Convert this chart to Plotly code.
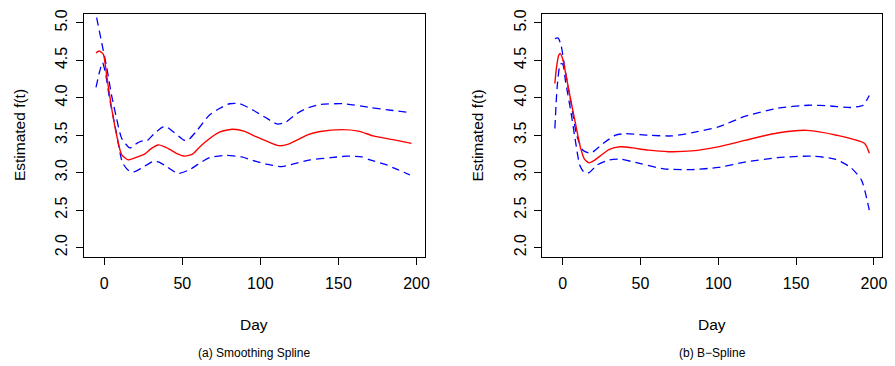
import plotly.graph_objects as go

# ---------------- data ----------------
# (a) Smoothing spline
day_a_fit = [-5.3, -3.2, -0.6, 1.5, 4.7, 7.9, 11.1, 15.3, 20, 26, 30, 34.5, 38, 41.9, 47, 51.5,
             56.8, 60, 65.3, 73.8, 82.3, 90, 97.2, 104, 111.7, 118, 125, 131, 138.3, 152.1,
             162.8, 172.3, 185, 196.8]
fit_a = [4.60, 4.625, 4.58, 4.30, 3.86, 3.50, 3.24, 3.17, 3.20, 3.25, 3.32, 3.37, 3.35, 3.31, 3.25,
         3.22, 3.25, 3.32, 3.42, 3.54, 3.58, 3.55, 3.48, 3.42, 3.36, 3.38, 3.45, 3.51, 3.55, 3.575,
         3.555, 3.49, 3.44, 3.39]

day_a_upper = [-4.9, -1.7, 1.5, 4.7, 7.9, 11.1, 16.4, 20, 23.8, 27, 32, 37.6, 40, 44, 51.5, 54,
               58.9, 67.4, 74, 80.2, 87, 95.7, 103, 110.6, 116, 123.4, 131, 138.3, 153.2, 170.2,
               185, 196.8]
upper_a = [5.07, 4.74, 4.41, 4.03, 3.72, 3.46, 3.33, 3.38, 3.42, 3.42, 3.52, 3.61, 3.61, 3.55, 3.43,
           3.44, 3.55, 3.77, 3.86, 3.92, 3.92, 3.83, 3.74, 3.65, 3.67, 3.79, 3.87, 3.91, 3.92, 3.87,
           3.83, 3.80]

day_a_lower = [-5.3, -3, -1.1, 1, 3.2, 7.4, 11.7, 16, 19, 23.8, 31.3, 35, 40, 47.2, 54.7, 60, 67.4,
               78, 88, 97.2, 105, 113.8, 122, 131.9, 145, 155.3, 165, 170.2, 180, 188, 195.7]
lower_a = [4.14, 4.35, 4.47, 4.30, 4.01, 3.57, 3.13, 3.02, 3.01, 3.06, 3.15, 3.14, 3.08, 2.99, 3.04,
           3.11, 3.20, 3.23, 3.21, 3.15, 3.11, 3.08, 3.12, 3.17, 3.20, 3.22, 3.21, 3.17, 3.11, 3.04,
           2.97]

# (b) B-spline
day_b_fit = [-5, -4, -2.5, -1.5, 0, 2, 5, 8, 11.5, 14, 17, 20, 24, 30, 37, 45, 55, 68, 83, 99, 117,
             138, 157, 176, 194, 197]
fit_b = [4.19, 4.40, 4.57, 4.59, 4.52, 4.32, 3.99, 3.68, 3.33, 3.18, 3.13, 3.16, 3.22, 3.31, 3.345,
         3.33, 3.30, 3.28, 3.29, 3.34, 3.43, 3.53, 3.565, 3.50, 3.39, 3.26]

day_b_upper = [-5, -3, -1, 1, 3, 6, 9, 13, 18, 26, 34, 40, 55, 70, 85, 100, 117, 138, 158, 172, 185,
               193, 197]
upper_b = [4.79, 4.80, 4.70, 4.45, 4.20, 3.86, 3.50, 3.30, 3.26, 3.39, 3.50, 3.52, 3.50, 3.49, 3.54,
           3.61, 3.75, 3.86, 3.90, 3.89, 3.87, 3.90, 4.03]

day_b_lower = [-5, -3.5, -1.5, 0, 2, 5, 8, 11, 14, 17, 22, 30, 37, 50, 65, 83, 100, 117, 138, 160,
               175, 185, 192, 197]
lower_b = [3.59, 4.15, 4.45, 4.45, 4.20, 3.85, 3.45, 3.10, 3.00, 3.00, 3.10, 3.17, 3.18, 3.12, 3.05,
           3.04, 3.07, 3.14, 3.20, 3.22, 3.18, 3.07, 2.90, 2.50]

x_ticks = [0, 50, 100, 150, 200]
y_ticks = [2.0, 2.5, 3.0, 3.5, 4.0, 4.5, 5.0]
y_tick_text = ["2.0", "2.5", "3.0", "3.5", "4.0", "4.5", "5.0"]
x_title = "Day"
y_title = "Estimated f(t)"
captions = ["(a) Smoothing Spline", "(b) B\u2212Spline"]

# ---------------- figure ----------------
W, H = 895, 366
FONT = "Liberation Sans, Arial, Helvetica, sans-serif"
RED = "#FF0000"
BLUE = "#0000FF"
DASH = "8px,5px"

fig = go.Figure()

panels = [
    ("x", "y", day_a_fit, fit_a, day_a_upper, upper_a, day_a_lower, lower_a),
    ("x2", "y2", day_b_fit, fit_b, day_b_upper, upper_b, day_b_lower, lower_b),
]
for xa, ya, dfit, fit, dup, up, dlo, lo in panels:
    fig.add_trace(go.Scatter(x=dup, y=up, mode="lines", xaxis=xa, yaxis=ya,
                             line=dict(color=BLUE, width=1.3, dash=DASH, shape="spline", smoothing=0.6),
                             showlegend=False, hoverinfo="skip"))
    fig.add_trace(go.Scatter(x=dlo, y=lo, mode="lines", xaxis=xa, yaxis=ya,
                             line=dict(color=BLUE, width=1.3, dash=DASH, shape="spline", smoothing=0.6),
                             showlegend=False, hoverinfo="skip"))
    fig.add_trace(go.Scatter(x=dfit, y=fit, mode="lines", xaxis=xa, yaxis=ya,
                             line=dict(color=RED, width=1.4, shape="spline", smoothing=0.6),
                             showlegend=False, hoverinfo="skip"))

# plot box positions (pixels)
left_box = (84, 427)
right_box = (545, 887)
top_px, bottom_px = 9, 255
ydom = [1 - bottom_px / H, 1 - top_px / H]

axis_common = dict(showline=True, linecolor="black", linewidth=1, mirror=True,
                   ticks="outside", ticklen=7, tickwidth=1, tickcolor="black",
                   showgrid=False, zeroline=False,
                   tickfont=dict(family=FONT, size=16, color="black"))

xrange = [-13.3, 205.2]
yrange = [1.88, 5.12]

fig.update_layout(
    width=W, height=H, margin=dict(l=0, r=0, t=0, b=0),
    paper_bgcolor="white", plot_bgcolor="white",
    xaxis=dict(domain=[left_box[0] / W, left_box[1] / W], range=xrange, tickvals=x_ticks,
               anchor="y", ticklabelstandoff=5, **axis_common),
    yaxis=dict(domain=ydom, range=yrange, tickvals=y_ticks, ticktext=y_tick_text, tickangle=-90,
               anchor="x", ticklabelstandoff=2, **axis_common),
    xaxis2=dict(domain=[right_box[0] / W, right_box[1] / W], range=xrange, tickvals=x_ticks,
                anchor="y2", ticklabelstandoff=5, **axis_common),
    yaxis2=dict(domain=ydom, range=yrange, tickvals=y_ticks, ticktext=y_tick_text, tickangle=-90,
                anchor="x2", ticklabelstandoff=2, **axis_common),
)

# axis titles & captions as paper annotations
for (bx0, bx1), cap in zip([left_box, right_box], captions):
    cx = (bx0 + bx1) / 2 / W
    fig.add_annotation(x=cx, y=1 - 324 / H, xref="paper", yref="paper", text=x_title,
                       showarrow=False, xanchor="center", yanchor="middle",
                       font=dict(family=FONT, size=15.5, color="black"))
    fig.add_annotation(x=cx, y=1 - 353 / H, xref="paper", yref="paper", text=cap,
                       showarrow=False, xanchor="center", yanchor="middle",
                       font=dict(family=FONT, size=12, color="black"))
    fig.add_annotation(x=(bx0 - 65) / W, y=1 - (top_px + bottom_px) / 2 / H, xref="paper",
                       yref="paper", text=y_title, textangle=-90, showarrow=False,
                       xanchor="center", yanchor="middle",
                       font=dict(family=FONT, size=15.5, color="black"))

fig.write_html("out.html")
